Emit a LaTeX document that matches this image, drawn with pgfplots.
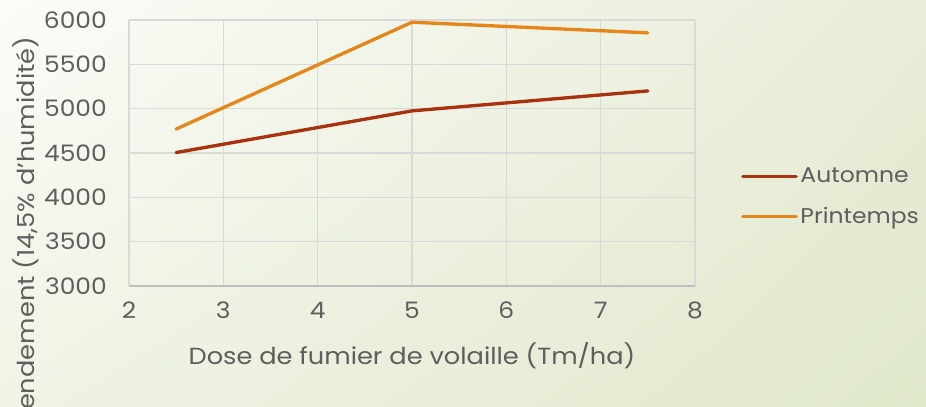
\documentclass[border=0pt]{standalone}
\usepackage{pgfplots}
\pgfplotsset{compat=1.18}
\usetikzlibrary{shadings}
\usepackage{fontspec}
\setmainfont{Poppins}[FakeStretch=1.1]
\definecolor{autom}{HTML}{A8320F}
\definecolor{print}{HTML}{E5861A}
\definecolor{txt}{HTML}{5E5E5E}
\definecolor{grd}{HTML}{D9D9D9}
\definecolor{bax}{HTML}{BFBFBF}
\definecolor{bgul}{HTML}{FBFCF8}
\definecolor{bgur}{HTML}{E8EDD8}
\definecolor{bgll}{HTML}{F0F3E5}
\definecolor{bglr}{HTML}{E0E8CA}
\begin{document}
\begin{tikzpicture}
\shade[upper left=bgul, upper right=bgur, lower left=bgll, lower right=bglr]
  (0,0) rectangle (694.5pt,305.25pt);
\begin{axis}[
  at={(96.75pt,90.75pt)}, anchor=south west,
  scale only axis, width=424.5pt, height=199.5pt,
  xmin=2, xmax=8, ymin=3000, ymax=6000,
  xtick={2,3,4,5,6,7,8},
  ytick={3000,3500,4000,4500,5000,5500,6000},
  /pgf/number format/assume math mode=true,
  scaled y ticks=false,
  yticklabel style={/pgf/number format/1000 sep={}},
  axis x line*=bottom, axis y line*=left,
  x axis line style={draw=bax, line width=0.9pt, -},
  y axis line style={draw=grd, line width=0.9pt, -},
  major tick length=0pt,
  grid=major, grid style={draw=grd, line width=0.9pt},
  tick label style={font=\fontsize{17}{20}\selectfont, text=txt, inner sep=0pt},
  yticklabel shift=16.5pt,
  xticklabel shift=12pt,
  xlabel={Dose de fumier de volaille (Tm/ha)},
  x label style={at={(rel axis cs:0.5,0)}, yshift=-52.5pt, anchor=center, font=\fontsize{17.5}{20}\selectfont, text=txt},
  ylabel={Rendement (14,5\% d'humidité)},
  y label style={at={(rel axis cs:-0.183,0.955)}, anchor=east, font=\fontsize{17.5}{20}\selectfont, text=txt},
  legend style={at={(rel axis cs:1.074,0.335)}, anchor=west, draw=none, fill=none,
    font=\fontsize{16}{19}\selectfont, text=txt, row sep=13pt,
    nodes={inner sep=2pt}},
  legend cell align=left,
  legend image code/.code={\draw[#1] (0pt,0pt) -- (40pt,0pt);},
]
\addplot[autom, line width=2.5pt, line cap=round] coordinates {(2.5,4505) (5,4975) (7.5,5200)};
\addlegendentry{Automne}
\addplot[print, line width=2.5pt, line cap=round] coordinates {(2.5,4770) (5,5975) (7.5,5855)};
\addlegendentry{Printemps}
\end{axis}
\pgfresetboundingbox
\path[use as bounding box] (0,0) rectangle (694.5pt,305.25pt);
\end{tikzpicture}
\end{document}
